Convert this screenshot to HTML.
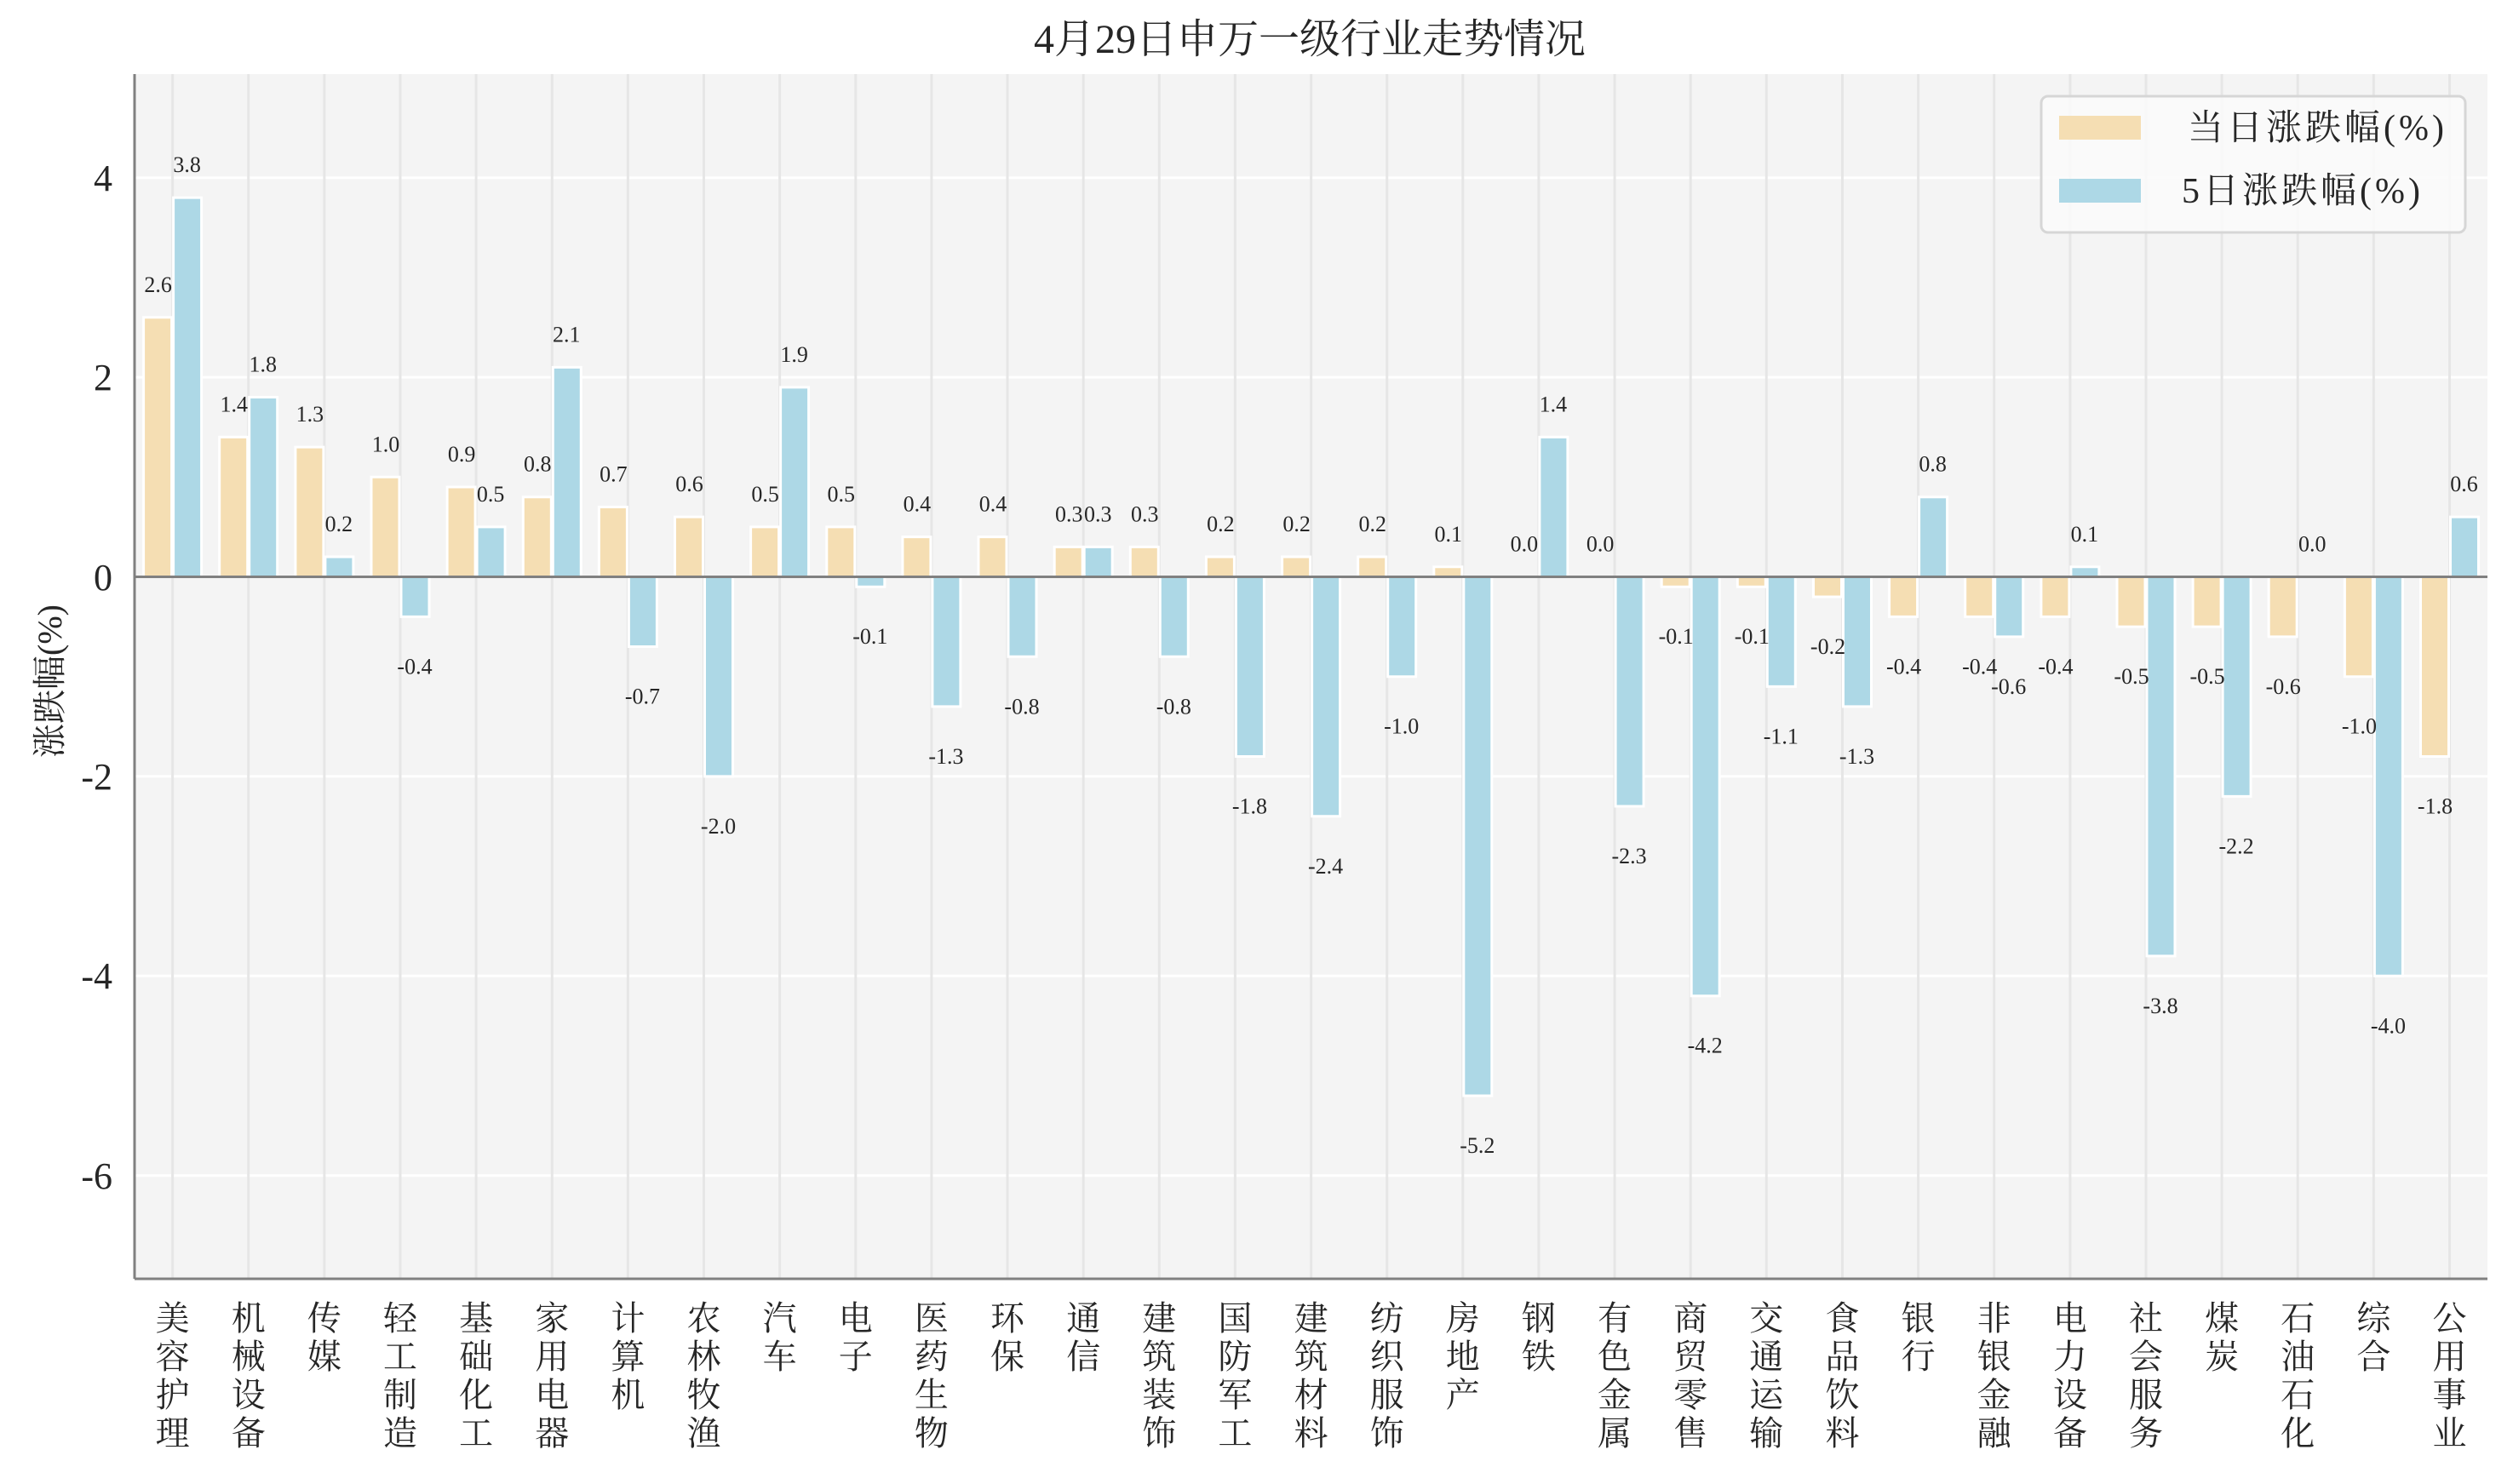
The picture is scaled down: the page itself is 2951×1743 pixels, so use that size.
<!DOCTYPE html>
<html><head><meta charset="utf-8"><style>
html,body{margin:0;padding:0;background:#fff;}
svg{display:block;}
text{font-family:"Liberation Serif","Noto Serif CJK SC",serif;fill:#262626;}
</style></head><body>
<svg width="2951" height="1743" viewBox="0 0 2951 1743" xmlns="http://www.w3.org/2000/svg">
<rect x="0" y="0" width="2951" height="1743" fill="#fff"/>
<rect x="158" y="87" width="2763" height="1415" fill="#f4f4f4"/>
<!-- horizontal grid -->
<g stroke="#ffffff" stroke-width="3">
<line x1="158" x2="2921" y1="208.7" y2="208.7"/>
<line x1="158" x2="2921" y1="443.1" y2="443.1"/>
<line x1="158" x2="2921" y1="911.9" y2="911.9"/>
<line x1="158" x2="2921" y1="1146.3" y2="1146.3"/>
<line x1="158" x2="2921" y1="1380.7" y2="1380.7"/>
</g>
<!-- vertical grid -->
<g stroke="#e6e6e6" stroke-width="3">
<line x1="202.6" x2="202.6" y1="87" y2="1502"/><line x1="291.7" x2="291.7" y1="87" y2="1502"/><line x1="380.9" x2="380.9" y1="87" y2="1502"/><line x1="470" x2="470" y1="87" y2="1502"/><line x1="559.1" x2="559.1" y1="87" y2="1502"/><line x1="648.3" x2="648.3" y1="87" y2="1502"/><line x1="737.4" x2="737.4" y1="87" y2="1502"/><line x1="826.5" x2="826.5" y1="87" y2="1502"/><line x1="915.6" x2="915.6" y1="87" y2="1502"/><line x1="1004.8" x2="1004.8" y1="87" y2="1502"/><line x1="1093.9" x2="1093.9" y1="87" y2="1502"/><line x1="1183" x2="1183" y1="87" y2="1502"/><line x1="1272.2" x2="1272.2" y1="87" y2="1502"/><line x1="1361.3" x2="1361.3" y1="87" y2="1502"/><line x1="1450.4" x2="1450.4" y1="87" y2="1502"/><line x1="1539.6" x2="1539.6" y1="87" y2="1502"/><line x1="1628.7" x2="1628.7" y1="87" y2="1502"/><line x1="1717.8" x2="1717.8" y1="87" y2="1502"/><line x1="1806.9" x2="1806.9" y1="87" y2="1502"/><line x1="1896.1" x2="1896.1" y1="87" y2="1502"/><line x1="1985.2" x2="1985.2" y1="87" y2="1502"/><line x1="2074.3" x2="2074.3" y1="87" y2="1502"/><line x1="2163.5" x2="2163.5" y1="87" y2="1502"/><line x1="2252.6" x2="2252.6" y1="87" y2="1502"/><line x1="2341.7" x2="2341.7" y1="87" y2="1502"/><line x1="2430.9" x2="2430.9" y1="87" y2="1502"/><line x1="2520" x2="2520" y1="87" y2="1502"/><line x1="2609.1" x2="2609.1" y1="87" y2="1502"/><line x1="2698.2" x2="2698.2" y1="87" y2="1502"/><line x1="2787.4" x2="2787.4" y1="87" y2="1502"/><line x1="2876.5" x2="2876.5" y1="87" y2="1502"/>
</g>
<!-- bars -->
<g transform="translate(0,677.5) scale(1,-117.2)" stroke="#fff" stroke-width="3" vector-effect="non-scaling-stroke">
<g fill="#f5deb3">
<rect vector-effect="non-scaling-stroke" x="168.6" width="33" y="0" height="2.6"/>
<rect vector-effect="non-scaling-stroke" x="257.7" width="33" y="0" height="1.4"/>
<rect vector-effect="non-scaling-stroke" x="346.9" width="33" y="0" height="1.3"/>
<rect vector-effect="non-scaling-stroke" x="436" width="33" y="0" height="1.0"/>
<rect vector-effect="non-scaling-stroke" x="525.1" width="33" y="0" height="0.9"/>
<rect vector-effect="non-scaling-stroke" x="614.3" width="33" y="0" height="0.8"/>
<rect vector-effect="non-scaling-stroke" x="703.4" width="33" y="0" height="0.7"/>
<rect vector-effect="non-scaling-stroke" x="792.5" width="33" y="0" height="0.6"/>
<rect vector-effect="non-scaling-stroke" x="881.6" width="33" y="0" height="0.5"/>
<rect vector-effect="non-scaling-stroke" x="970.8" width="33" y="0" height="0.5"/>
<rect vector-effect="non-scaling-stroke" x="1059.9" width="33" y="0" height="0.4"/>
<rect vector-effect="non-scaling-stroke" x="1149" width="33" y="0" height="0.4"/>
<rect vector-effect="non-scaling-stroke" x="1238.2" width="33" y="0" height="0.3"/>
<rect vector-effect="non-scaling-stroke" x="1327.3" width="33" y="0" height="0.3"/>
<rect vector-effect="non-scaling-stroke" x="1416.4" width="33" y="0" height="0.2"/>
<rect vector-effect="non-scaling-stroke" x="1505.6" width="33" y="0" height="0.2"/>
<rect vector-effect="non-scaling-stroke" x="1594.7" width="33" y="0" height="0.2"/>
<rect vector-effect="non-scaling-stroke" x="1683.8" width="33" y="0" height="0.1"/>
<rect vector-effect="non-scaling-stroke" x="1951.2" width="33" y="-0.1" height="0.1"/>
<rect vector-effect="non-scaling-stroke" x="2040.3" width="33" y="-0.1" height="0.1"/>
<rect vector-effect="non-scaling-stroke" x="2129.5" width="33" y="-0.2" height="0.2"/>
<rect vector-effect="non-scaling-stroke" x="2218.6" width="33" y="-0.4" height="0.4"/>
<rect vector-effect="non-scaling-stroke" x="2307.7" width="33" y="-0.4" height="0.4"/>
<rect vector-effect="non-scaling-stroke" x="2396.9" width="33" y="-0.4" height="0.4"/>
<rect vector-effect="non-scaling-stroke" x="2486" width="33" y="-0.5" height="0.5"/>
<rect vector-effect="non-scaling-stroke" x="2575.1" width="33" y="-0.5" height="0.5"/>
<rect vector-effect="non-scaling-stroke" x="2664.2" width="33" y="-0.6" height="0.6"/>
<rect vector-effect="non-scaling-stroke" x="2753.4" width="33" y="-1.0" height="1.0"/>
<rect vector-effect="non-scaling-stroke" x="2842.5" width="33" y="-1.8" height="1.8"/>
</g>
<g fill="#add8e6">
<rect vector-effect="non-scaling-stroke" x="203.6" width="33" y="0" height="3.8"/>
<rect vector-effect="non-scaling-stroke" x="292.7" width="33" y="0" height="1.8"/>
<rect vector-effect="non-scaling-stroke" x="381.9" width="33" y="0" height="0.2"/>
<rect vector-effect="non-scaling-stroke" x="471" width="33" y="-0.4" height="0.4"/>
<rect vector-effect="non-scaling-stroke" x="560.1" width="33" y="0" height="0.5"/>
<rect vector-effect="non-scaling-stroke" x="649.3" width="33" y="0" height="2.1"/>
<rect vector-effect="non-scaling-stroke" x="738.4" width="33" y="-0.7" height="0.7"/>
<rect vector-effect="non-scaling-stroke" x="827.5" width="33" y="-2.0" height="2.0"/>
<rect vector-effect="non-scaling-stroke" x="916.6" width="33" y="0" height="1.9"/>
<rect vector-effect="non-scaling-stroke" x="1005.8" width="33" y="-0.1" height="0.1"/>
<rect vector-effect="non-scaling-stroke" x="1094.9" width="33" y="-1.3" height="1.3"/>
<rect vector-effect="non-scaling-stroke" x="1184" width="33" y="-0.8" height="0.8"/>
<rect vector-effect="non-scaling-stroke" x="1273.2" width="33" y="0" height="0.3"/>
<rect vector-effect="non-scaling-stroke" x="1362.3" width="33" y="-0.8" height="0.8"/>
<rect vector-effect="non-scaling-stroke" x="1451.4" width="33" y="-1.8" height="1.8"/>
<rect vector-effect="non-scaling-stroke" x="1540.6" width="33" y="-2.4" height="2.4"/>
<rect vector-effect="non-scaling-stroke" x="1629.7" width="33" y="-1.0" height="1.0"/>
<rect vector-effect="non-scaling-stroke" x="1718.8" width="33" y="-5.2" height="5.2"/>
<rect vector-effect="non-scaling-stroke" x="1807.9" width="33" y="0" height="1.4"/>
<rect vector-effect="non-scaling-stroke" x="1897.1" width="33" y="-2.3" height="2.3"/>
<rect vector-effect="non-scaling-stroke" x="1986.2" width="33" y="-4.2" height="4.2"/>
<rect vector-effect="non-scaling-stroke" x="2075.3" width="33" y="-1.1" height="1.1"/>
<rect vector-effect="non-scaling-stroke" x="2164.5" width="33" y="-1.3" height="1.3"/>
<rect vector-effect="non-scaling-stroke" x="2253.6" width="33" y="0" height="0.8"/>
<rect vector-effect="non-scaling-stroke" x="2342.7" width="33" y="-0.6" height="0.6"/>
<rect vector-effect="non-scaling-stroke" x="2431.9" width="33" y="0" height="0.1"/>
<rect vector-effect="non-scaling-stroke" x="2521" width="33" y="-3.8" height="3.8"/>
<rect vector-effect="non-scaling-stroke" x="2610.1" width="33" y="-2.2" height="2.2"/>
<rect vector-effect="non-scaling-stroke" x="2788.4" width="33" y="-4.0" height="4.0"/>
<rect vector-effect="non-scaling-stroke" x="2877.5" width="33" y="0" height="0.6"/>
</g>
</g>
<!-- zero line & spines -->
<line x1="158" x2="2921" y1="677.5" y2="677.5" stroke="#808080" stroke-width="3"/>
<line x1="158" x2="158" y1="87" y2="1502" stroke="#808080" stroke-width="3"/>
<line x1="158" x2="2921" y1="1502" y2="1502" stroke="#808080" stroke-width="3"/>
<!-- value labels -->
<g font-size="26" text-anchor="middle">
<text x="185.6" y="342.8">2.6</text><text x="274.7" y="483.4">1.4</text><text x="363.9" y="495.1">1.3</text><text x="453" y="530.3">1.0</text><text x="542.1" y="542">0.9</text><text x="631.3" y="553.7">0.8</text><text x="720.4" y="565.5">0.7</text><text x="809.5" y="577.2">0.6</text><text x="898.6" y="588.9">0.5</text><text x="987.8" y="588.9">0.5</text><text x="1076.9" y="600.6">0.4</text><text x="1166" y="600.6">0.4</text><text x="1255.2" y="612.3">0.3</text><text x="1344.3" y="612.3">0.3</text><text x="1433.4" y="624.1">0.2</text><text x="1522.6" y="624.1">0.2</text><text x="1611.7" y="624.1">0.2</text><text x="1700.8" y="635.8">0.1</text><text x="1789.9" y="647.5">0.0</text><text x="1879.1" y="647.5">0.0</text><text x="1968.2" y="756.2">-0.1</text><text x="2057.3" y="756.2">-0.1</text><text x="2146.5" y="767.9">-0.2</text><text x="2235.6" y="791.4">-0.4</text><text x="2324.7" y="791.4">-0.4</text><text x="2413.9" y="791.4">-0.4</text><text x="2503" y="803.1">-0.5</text><text x="2592.1" y="803.1">-0.5</text><text x="2681.2" y="814.8">-0.6</text><text x="2770.4" y="861.7">-1.0</text><text x="2859.5" y="955.5">-1.8</text>
<text x="219.6" y="202.1">3.8</text><text x="308.7" y="436.5">1.8</text><text x="397.9" y="624.1">0.2</text><text x="487" y="791.4">-0.4</text><text x="576.1" y="588.9">0.5</text><text x="665.3" y="401.4">2.1</text><text x="754.4" y="826.5">-0.7</text><text x="843.5" y="978.9">-2.0</text><text x="932.6" y="424.8">1.9</text><text x="1021.8" y="756.2">-0.1</text><text x="1110.9" y="896.9">-1.3</text><text x="1200" y="838.3">-0.8</text><text x="1289.2" y="612.3">0.3</text><text x="1378.3" y="838.3">-0.8</text><text x="1467.4" y="955.5">-1.8</text><text x="1556.6" y="1025.8">-2.4</text><text x="1645.7" y="861.7">-1.0</text><text x="1734.8" y="1353.9">-5.2</text><text x="1823.9" y="483.4">1.4</text><text x="1913.1" y="1014.1">-2.3</text><text x="2002.2" y="1236.7">-4.2</text><text x="2091.3" y="873.4">-1.1</text><text x="2180.5" y="896.9">-1.3</text><text x="2269.6" y="553.7">0.8</text><text x="2358.7" y="814.8">-0.6</text><text x="2447.9" y="635.8">0.1</text><text x="2537" y="1189.9">-3.8</text><text x="2626.1" y="1002.3">-2.2</text><text x="2715.2" y="647.5">0.0</text><text x="2804.4" y="1213.3">-4.0</text><text x="2893.5" y="577.2">0.6</text>
</g>
<!-- y ticks -->
<g font-size="44" text-anchor="end">
<text x="132" y="224">4</text><text x="132" y="458">2</text><text x="132" y="693">0</text><text x="132" y="927">-2</text><text x="132" y="1161">-4</text><text x="132" y="1396">-6</text>
</g>
<text font-size="40" text-anchor="middle" transform="translate(72,800) rotate(-90)">涨跌幅(%)</text>
<!-- title -->
<text x="1538" y="62" font-size="48" text-anchor="middle">4月29日申万一级行业走势情况</text>
<!-- x tick labels -->
<g font-size="40" text-anchor="middle">
<text x="202.6" y="1562"><tspan x="202.6">美</tspan><tspan x="202.6" dy="45">容</tspan><tspan x="202.6" dy="45">护</tspan><tspan x="202.6" dy="45">理</tspan></text>
<text x="291.7" y="1562"><tspan x="291.7">机</tspan><tspan x="291.7" dy="45">械</tspan><tspan x="291.7" dy="45">设</tspan><tspan x="291.7" dy="45">备</tspan></text>
<text x="380.9" y="1562"><tspan x="380.9">传</tspan><tspan x="380.9" dy="45">媒</tspan></text>
<text x="470" y="1562"><tspan x="470">轻</tspan><tspan x="470" dy="45">工</tspan><tspan x="470" dy="45">制</tspan><tspan x="470" dy="45">造</tspan></text>
<text x="559.1" y="1562"><tspan x="559.1">基</tspan><tspan x="559.1" dy="45">础</tspan><tspan x="559.1" dy="45">化</tspan><tspan x="559.1" dy="45">工</tspan></text>
<text x="648.3" y="1562"><tspan x="648.3">家</tspan><tspan x="648.3" dy="45">用</tspan><tspan x="648.3" dy="45">电</tspan><tspan x="648.3" dy="45">器</tspan></text>
<text x="737.4" y="1562"><tspan x="737.4">计</tspan><tspan x="737.4" dy="45">算</tspan><tspan x="737.4" dy="45">机</tspan></text>
<text x="826.5" y="1562"><tspan x="826.5">农</tspan><tspan x="826.5" dy="45">林</tspan><tspan x="826.5" dy="45">牧</tspan><tspan x="826.5" dy="45">渔</tspan></text>
<text x="915.6" y="1562"><tspan x="915.6">汽</tspan><tspan x="915.6" dy="45">车</tspan></text>
<text x="1004.8" y="1562"><tspan x="1004.8">电</tspan><tspan x="1004.8" dy="45">子</tspan></text>
<text x="1093.9" y="1562"><tspan x="1093.9">医</tspan><tspan x="1093.9" dy="45">药</tspan><tspan x="1093.9" dy="45">生</tspan><tspan x="1093.9" dy="45">物</tspan></text>
<text x="1183" y="1562"><tspan x="1183">环</tspan><tspan x="1183" dy="45">保</tspan></text>
<text x="1272.2" y="1562"><tspan x="1272.2">通</tspan><tspan x="1272.2" dy="45">信</tspan></text>
<text x="1361.3" y="1562"><tspan x="1361.3">建</tspan><tspan x="1361.3" dy="45">筑</tspan><tspan x="1361.3" dy="45">装</tspan><tspan x="1361.3" dy="45">饰</tspan></text>
<text x="1450.4" y="1562"><tspan x="1450.4">国</tspan><tspan x="1450.4" dy="45">防</tspan><tspan x="1450.4" dy="45">军</tspan><tspan x="1450.4" dy="45">工</tspan></text>
<text x="1539.6" y="1562"><tspan x="1539.6">建</tspan><tspan x="1539.6" dy="45">筑</tspan><tspan x="1539.6" dy="45">材</tspan><tspan x="1539.6" dy="45">料</tspan></text>
<text x="1628.7" y="1562"><tspan x="1628.7">纺</tspan><tspan x="1628.7" dy="45">织</tspan><tspan x="1628.7" dy="45">服</tspan><tspan x="1628.7" dy="45">饰</tspan></text>
<text x="1717.8" y="1562"><tspan x="1717.8">房</tspan><tspan x="1717.8" dy="45">地</tspan><tspan x="1717.8" dy="45">产</tspan></text>
<text x="1806.9" y="1562"><tspan x="1806.9">钢</tspan><tspan x="1806.9" dy="45">铁</tspan></text>
<text x="1896.1" y="1562"><tspan x="1896.1">有</tspan><tspan x="1896.1" dy="45">色</tspan><tspan x="1896.1" dy="45">金</tspan><tspan x="1896.1" dy="45">属</tspan></text>
<text x="1985.2" y="1562"><tspan x="1985.2">商</tspan><tspan x="1985.2" dy="45">贸</tspan><tspan x="1985.2" dy="45">零</tspan><tspan x="1985.2" dy="45">售</tspan></text>
<text x="2074.3" y="1562"><tspan x="2074.3">交</tspan><tspan x="2074.3" dy="45">通</tspan><tspan x="2074.3" dy="45">运</tspan><tspan x="2074.3" dy="45">输</tspan></text>
<text x="2163.5" y="1562"><tspan x="2163.5">食</tspan><tspan x="2163.5" dy="45">品</tspan><tspan x="2163.5" dy="45">饮</tspan><tspan x="2163.5" dy="45">料</tspan></text>
<text x="2252.6" y="1562"><tspan x="2252.6">银</tspan><tspan x="2252.6" dy="45">行</tspan></text>
<text x="2341.7" y="1562"><tspan x="2341.7">非</tspan><tspan x="2341.7" dy="45">银</tspan><tspan x="2341.7" dy="45">金</tspan><tspan x="2341.7" dy="45">融</tspan></text>
<text x="2430.9" y="1562"><tspan x="2430.9">电</tspan><tspan x="2430.9" dy="45">力</tspan><tspan x="2430.9" dy="45">设</tspan><tspan x="2430.9" dy="45">备</tspan></text>
<text x="2520" y="1562"><tspan x="2520">社</tspan><tspan x="2520" dy="45">会</tspan><tspan x="2520" dy="45">服</tspan><tspan x="2520" dy="45">务</tspan></text>
<text x="2609.1" y="1562"><tspan x="2609.1">煤</tspan><tspan x="2609.1" dy="45">炭</tspan></text>
<text x="2698.2" y="1562"><tspan x="2698.2">石</tspan><tspan x="2698.2" dy="45">油</tspan><tspan x="2698.2" dy="45">石</tspan><tspan x="2698.2" dy="45">化</tspan></text>
<text x="2787.4" y="1562"><tspan x="2787.4">综</tspan><tspan x="2787.4" dy="45">合</tspan></text>
<text x="2876.5" y="1562"><tspan x="2876.5">公</tspan><tspan x="2876.5" dy="45">用</tspan><tspan x="2876.5" dy="45">事</tspan><tspan x="2876.5" dy="45">业</tspan></text>
</g>
<!-- legend -->
<rect x="2397" y="113" width="498" height="160" rx="8" fill="#fafafa" fill-opacity="0.85" stroke="#d6d6d6" stroke-width="3"/>
<rect x="2418" y="136" width="96" height="28" fill="#f5deb3"/>
<rect x="2418" y="210" width="96" height="28" fill="#add8e6"/>
<text x="2874" y="164" font-size="42" text-anchor="end" letter-spacing="4">当日涨跌幅(%)</text>
<text x="2846" y="238" font-size="42" text-anchor="end" letter-spacing="4">5日涨跌幅(%)</text>
</svg>
</body></html>
